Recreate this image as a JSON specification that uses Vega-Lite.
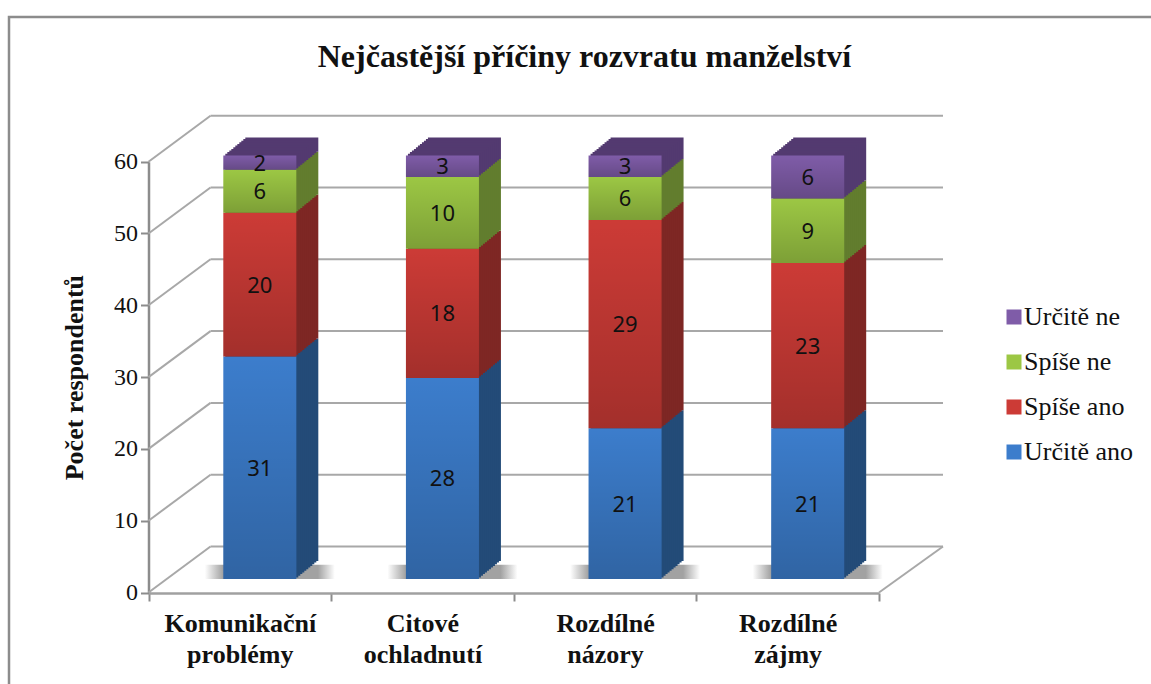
{"$schema":"https://vega.github.io/schema/vega-lite/v6.json","width":1151,"height":680,"padding":{"left":9,"top":17,"right":0,"bottom":0},"autosize":"none","background":"white",
"title":{"text":"Nejčastější příčiny rozvratu manželství","font":"Liberation Serif","fontSize":32,"fontWeight":"bold","color":"#111","anchor":"middle","offset":-57},
"config":{"view":{"stroke":"#8c8c8c","strokeWidth":2.5,"fill":"white"}},
"datasets":{"grid":[{"tick":0},{"tick":10},{"tick":20},{"tick":30},{"tick":40},{"tick":50},{"tick":60}],
"bars":[
{"kat":"Komunikační problémy","serie":"Určitě ano","rank":1,"pocet":31},{"kat":"Komunikační problémy","serie":"Spíše ano","rank":2,"pocet":20},{"kat":"Komunikační problémy","serie":"Spíše ne","rank":3,"pocet":6},{"kat":"Komunikační problémy","serie":"Určitě ne","rank":4,"pocet":2},
{"kat":"Citové ochladnutí","serie":"Určitě ano","rank":1,"pocet":28},{"kat":"Citové ochladnutí","serie":"Spíše ano","rank":2,"pocet":18},{"kat":"Citové ochladnutí","serie":"Spíše ne","rank":3,"pocet":10},{"kat":"Citové ochladnutí","serie":"Určitě ne","rank":4,"pocet":3},
{"kat":"Rozdílné názory","serie":"Určitě ano","rank":1,"pocet":21},{"kat":"Rozdílné názory","serie":"Spíše ano","rank":2,"pocet":29},{"kat":"Rozdílné názory","serie":"Spíše ne","rank":3,"pocet":6},{"kat":"Rozdílné názory","serie":"Určitě ne","rank":4,"pocet":3},
{"kat":"Rozdílné zájmy","serie":"Určitě ano","rank":1,"pocet":21},{"kat":"Rozdílné zájmy","serie":"Spíše ano","rank":2,"pocet":23},{"kat":"Rozdílné zájmy","serie":"Spíše ne","rank":3,"pocet":9},{"kat":"Rozdílné zájmy","serie":"Určitě ne","rank":4,"pocet":6}]},
"data":{"name":"bars"},
"resolve":{"scale":{"x":"independent","fill":"independent"}},
"layer":[
{"data":{"name":"grid"},
"encoding":{"y":{"field":"tick","type":"quantitative","scale":{"domain":[0,60],"range":[575.5,144.7]},"axis":{"title":"Počet respondentů","titleFont":"Liberation Serif","titleFontSize":26,"titleFontWeight":"bold","titleColor":"#111","titlePadding":26,"labelFont":"Liberation Serif","labelFontSize":24,"labelColor":"#111","labelPadding":3,"tickSize":8,"tickWidth":2,"tickColor":"#8c8c8c","domainWidth":2.5,"domainColor":"#8c8c8c","values":[0,10,20,30,40,50,60],"grid":false,"offset":-139.5}}},
"layer":[
{"mark":{"type":"rule","color":"#a8a8a8","strokeWidth":2,"xOffset":62,"x2Offset":64,"yOffset":-46},"encoding":{"x":{"datum":0,"type":"quantitative","scale":{"domain":[0,1],"range":[139.5,870]},"axis":null},"x2":{"datum":1}}},
{"mark":{"type":"rule","color":"#a8a8a8","strokeWidth":2,"x2Offset":62,"y2Offset":-46},"encoding":{"x":{"datum":0,"type":"quantitative"},"x2":{"datum":0},"y2":{"field":"tick"}}},
{"transform":[{"filter":"datum.tick==0"}],"mark":{"type":"rule","color":"#a8a8a8","strokeWidth":2,"x2Offset":64,"y2Offset":-46},"encoding":{"x":{"datum":1,"type":"quantitative"},"x2":{"datum":1},"y2":{"field":"tick"}}}
]},
{"transform":[{"filter":"datum.rank==1"}],"mark":{"type":"bar","size":130,"xOffset":30,"yOffset":-13.5,"y2Offset":-13.5,"fill":{"gradient":"linear","x1":0,"x2":1,"y1":0,"y2":0,"stops":[{"offset":0,"color":"rgba(100,100,100,0)"},{"offset":0.14,"color":"rgba(100,100,100,0.6)"},{"offset":0.87,"color":"rgba(100,100,100,0.6)"},{"offset":1,"color":"rgba(100,100,100,0)"}]}},"encoding":{"x":{"field":"kat","type":"nominal","sort":null,"scale":{"domain":["Komunikační problémy","Citové ochladnutí","Rozdílné názory","Rozdílné zájmy"],"range":[139.5,870],"paddingInner":0,"paddingOuter":0},"axis":null},"y":{"datum":0,"type":"quantitative"},"y2":{"datum":2}}},
{"encoding":{"x":{"field":"kat","type":"nominal","sort":null,"scale":{"domain":["Komunikační problémy","Citové ochladnutí","Rozdílné názory","Rozdílné zájmy"],"range":[139.5,870],"paddingInner":0,"paddingOuter":0},"axis":{"orient":"bottom","title":null,"offset":-104,"labelAngle":0,"labelFont":"Liberation Serif","labelFontSize":26,"labelFontWeight":"bold","labelColor":"#111","labelExpr":"isValid(datum.value) ? split(datum.value,' ') : ''","labelLineHeight":31,"labelPadding":9,"tickBand":"extent","tickSize":8,"tickWidth":2,"tickColor":"#8c8c8c","domainWidth":2.5,"domainColor":"#a0a0a0","grid":false}},
"y":{"field":"pocet","type":"quantitative","stack":"zero"},"order":{"field":"rank","type":"ordinal"},
"fill":{"field":"serie","type":"nominal","legend":null,"scale":{"domain":["Určitě ne","Spíše ne","Spíše ano","Určitě ano"],"range":["#533A70","#627D2E","#7E2724","#234B78"]}}},
"layer":[
{"mark":{"type":"bar","size":73,"xOffset":42,"yOffset":-31.5,"y2Offset":-31.5}},
{"mark":{"type":"bar","size":73,"xOffset":40,"yOffset":-29.9,"y2Offset":-29.9}},
{"mark":{"type":"bar","size":73,"xOffset":38,"yOffset":-28.2,"y2Offset":-28.2}},
{"mark":{"type":"bar","size":73,"xOffset":36,"yOffset":-26.6,"y2Offset":-26.6}},
{"mark":{"type":"bar","size":73,"xOffset":34,"yOffset":-24.9,"y2Offset":-24.9}},
{"mark":{"type":"bar","size":73,"xOffset":32,"yOffset":-23.3,"y2Offset":-23.3}},
{"mark":{"type":"bar","size":73,"xOffset":30,"yOffset":-21.7,"y2Offset":-21.7}},
{"mark":{"type":"bar","size":73,"xOffset":28,"yOffset":-20,"y2Offset":-20}},
{"mark":{"type":"bar","size":73,"xOffset":26,"yOffset":-18.4,"y2Offset":-18.4}},
{"mark":{"type":"bar","size":73,"xOffset":24,"yOffset":-16.8,"y2Offset":-16.8}},
{"mark":{"type":"bar","size":73,"xOffset":22,"yOffset":-15.1,"y2Offset":-15.1}}
]},
{"encoding":{"x":{"field":"kat","type":"nominal","sort":null,"scale":{"domain":["Komunikační problémy","Citové ochladnutí","Rozdílné názory","Rozdílné zájmy"],"range":[139.5,870],"paddingInner":0,"paddingOuter":0},"axis":null},
"y":{"field":"pocet","type":"quantitative","stack":"zero"},"order":{"field":"rank","type":"ordinal"}},
"layer":[
{"mark":{"type":"bar","size":73,"xOffset":20,"yOffset":-13.5,"y2Offset":-13.5},
"encoding":{"fill":{"field":"serie","type":"nominal","scale":{"domain":["Určitě ne","Spíše ne","Spíše ano","Určitě ano"],"range":["#7F5CA8","#9CC744","#CC3B36","#3C7DCC"]},
"legend":{"title":null,"orient":"none","legendX":992,"legendY":287,"symbolType":"square","symbolSize":225,"symbolStrokeWidth":0,"symbolOpacity":1,"labelFont":"Liberation Serif","labelFontSize":26,"labelColor":"#111","labelOffset":-3,"rowPadding":19}}}},
{"mark":{"type":"bar","size":73,"xOffset":20,"yOffset":-13.5,"y2Offset":-13.5,"fill":{"gradient":"linear","x1":0,"x2":0,"y1":0,"y2":1,"stops":[{"offset":0,"color":"rgba(0,0,0,0)"},{"offset":1,"color":"rgba(0,0,0,0.2)"}]}}},
{"mark":{"type":"text","font":"Noto Sans","fontSize":22,"color":"#111","dx":20,"dy":-12.5,"baseline":"middle"},"encoding":{"y":{"field":"pocet","type":"quantitative","stack":"zero","bandPosition":0.5},"text":{"field":"pocet","type":"quantitative"}}}
]}
]}
